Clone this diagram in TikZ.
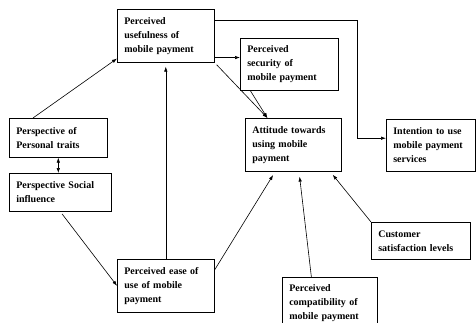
\documentclass[tikz,border=0pt]{standalone}
\usepackage{fontspec}
\setmainfont{Liberation Serif}
\usetikzlibrary{arrows.meta}

\begin{document}
\begin{tikzpicture}[x=1pt,y=-1pt,
  >={Latex[length=5pt,width=3.5pt]},
  every path/.style={line width=0.6pt},
  box/.style={draw, anchor=north west, align=left, inner xsep=7pt,
    font=\fontsize{10}{14}\selectfont\bfseries}]
\useasboundingbox (0,0) rectangle (476,322);

% boxes
\node[box, text width=83, minimum height=53] (pu) at (117,9) {Perceived\\usefulness of\\mobile payment};
\node[box, text width=84, minimum height=52] (ps) at (240,38) {Perceived\\security of\\mobile payment};
\node[box, text width=82, minimum height=53] (att) at (245,118) {Attitude towards\\using mobile\\payment};
\node[box, text width=75, minimum height=52] (int) at (386,119) {Intention to use\\mobile payment\\services};
\node[box, text width=84, minimum height=39] (ppt) at (9,118) {Perspective of\\Personal traits};
\node[box, text width=88, minimum height=38] (psi) at (9,173) {Perspective Social\\influence};
\node[box, text width=83, minimum height=53] (peou) at (117,259) {Perceived ease of\\use of mobile\\payment};
\node[box, text width=85, minimum height=37] (cs) at (371,222) {Customer\\satisfaction levels};
\node[box, text width=81, minimum height=52] (pc) at (282,277) {Perceived\\compatibility of\\mobile payment};

% connectors
\draw[->] (ppt.142) -- (pu.205);
\draw[<->] (ppt.south) -- (ppt.south |- psi.north);
\draw[->, shorten <=3pt] (psi.south) -- (peou.west);
\draw[->, shorten >=4pt] (peou.north) -- (pu.south);
\draw[->, shorten >=4pt] (peou.18) -- (att.236);
\draw[->] (pu.336) -- (pu.336 -| ps.west);
\draw[->, shorten <=3pt] (pu.south east) -- (att.134);
\draw[->] (ps.214) -- (att.134);
\coordinate (turn) at (357,0);
\draw[->] (pu.18) -| (turn |- int.171) -- (int.171);
\draw[->, shorten >=5pt] (pc.125) -- (att.282);
\draw[->, shorten >=4pt] (cs.north west) -- (att.324);
\end{tikzpicture}
\end{document}
